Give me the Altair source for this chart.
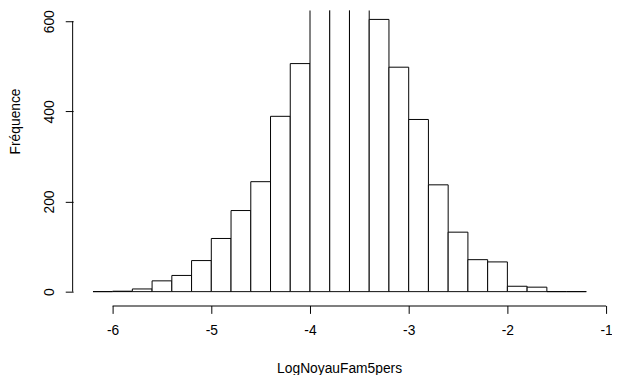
import altair as alt
import pandas as pd

# Histogram bins (width 0.2) and counts
bin_starts = [-6.2, -6.0, -5.8, -5.6, -5.4, -5.2, -5.0, -4.8, -4.6, -4.4, -4.2,
              -4.0, -3.8, -3.6, -3.4, -3.2, -3.0, -2.8, -2.6, -2.4, -2.2,
              -2.0, -1.8, -1.6, -1.4]
counts = [0, 1, 6, 24, 36, 69, 118, 180, 244, 389, 506,
          655, 700, 685, 604, 498, 382, 237, 132, 71, 66,
          12, 10, 0, 0]
bin_width = 0.2

x_ticks = [-6, -5, -4, -3, -2, -1]
y_ticks = [0, 200, 400, 600]

df = pd.DataFrame({
    "start": bin_starts,
    "end": [round(s + bin_width, 1) for s in bin_starts],
    "count": counts,
})
axis_df = pd.DataFrame({"x0": [x_ticks[0]], "x1": [x_ticks[-1]],
                        "y0": [y_ticks[0]], "y1": [y_ticks[-1]]})

FONT = "Liberation Sans"
W, H = 520, 286
X_OFF, Y_OFF = 13, 20
X_DOM = [-6.2, -1.0]
Y_DOM = [-2.2, 624]

xscale = alt.Scale(domain=X_DOM, nice=False, zero=False)
yscale = alt.Scale(domain=Y_DOM, nice=False, zero=False)

bars = alt.Chart(df).mark_rect(
    fill="white", stroke="black", strokeWidth=1, clip=True
).encode(
    x=alt.X("start:Q", scale=xscale, axis=alt.Axis(
        values=x_ticks, labelExpr="'' + datum.value", grid=False,
        domain=False,
        tickSize=8, tickColor="black", tickWidth=1, labelFont=FONT,
        labelFontSize=14, labelColor="black", labelPadding=10,
        labelFlush=False, offset=X_OFF,
        title="LogNoyauFam5pers", titleFont=FONT, titleFontSize=14,
        titleFontWeight="normal", titleColor="black", titleAlign="center",
        titleBaseline="alphabetic", titleX=249.5, titleY=67.5,
    )),
    x2="end:Q",
    y=alt.Y("count:Q", scale=yscale, axis=alt.Axis(
        values=y_ticks, labelExpr="'' + datum.value", grid=False,
        domain=False,
        tickSize=8, tickColor="black", tickWidth=1, labelFont=FONT,
        labelFontSize=14, labelColor="black", labelAngle=270,
        labelAlign="center", labelBaseline="alphabetic", labelPadding=12,
        offset=Y_OFF,
        title="Fréquence", titleFont=FONT, titleFontSize=14,
        titleFontWeight="normal", titleColor="black", titleAngle=270,
        titleAlign="center", titleBaseline="alphabetic",
        titleX=-54.5, titleY=112,
    )),
    y2=alt.datum(0),
)

# R-style axis lines spanning only the tick range, as thin filled rects
x_line = alt.Chart(axis_df).mark_rect(fill="black", strokeWidth=0).encode(
    x="x0:Q", x2="x1:Q",
    y=alt.value(H + X_OFF), y2=alt.value(H + X_OFF + 1),
)
y_line = alt.Chart(axis_df).mark_rect(fill="black", strokeWidth=0).encode(
    y="y0:Q", y2="y1:Q",
    x=alt.value(-Y_OFF - 1), x2=alt.value(-Y_OFF),
)

chart = alt.layer(bars, x_line, y_line).properties(
    width=W, height=H,
    view=alt.ViewBackground(strokeWidth=0),
    background="white",
    autosize=alt.AutoSizeParams(type="none"),
    padding={"left": 86, "top": 0, "right": 6, "bottom": 81},
)

chart.save("out.html", embed_options={"renderer": "svg", "actions": False})
